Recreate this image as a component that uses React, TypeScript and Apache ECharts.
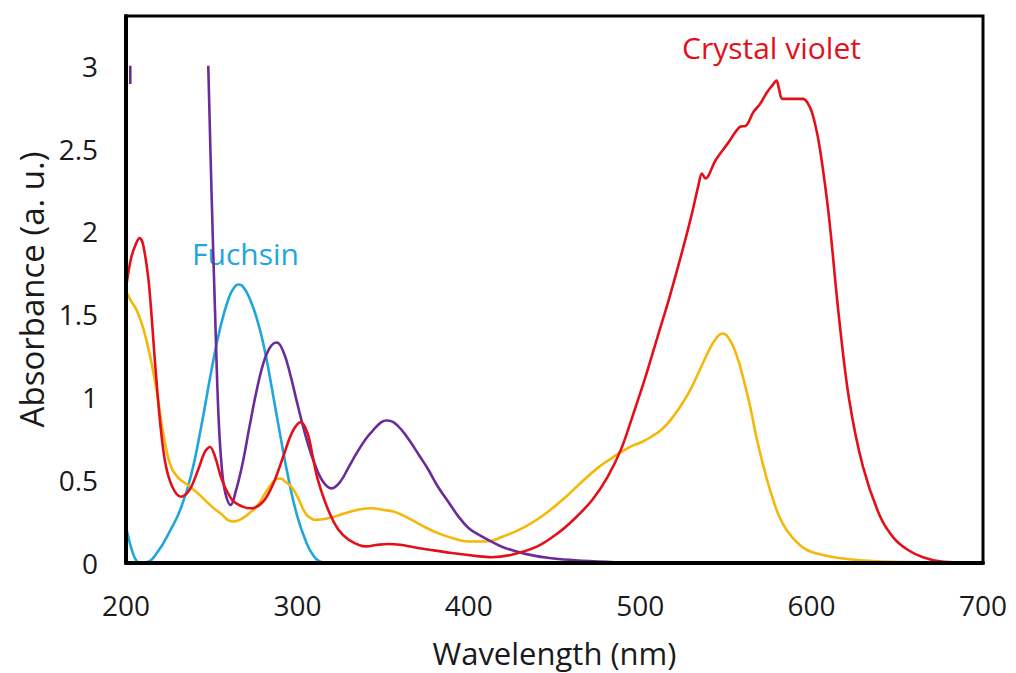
import React, { useEffect, useRef } from "react";
import * as echarts from "echarts";

const crystalViolet: [number, number][] = [
  [200, 1.66], [203, 1.84], [206, 1.93], [208, 1.96], [210, 1.92], [213, 1.72], [215, 1.48], [217, 1.2],
  [220, 0.84], [223, 0.6], [227, 0.46], [232, 0.4], [237, 0.44], [242, 0.56], [246, 0.67], [249, 0.7],
  [252, 0.64], [256, 0.5], [262, 0.38], [268, 0.34], [273, 0.33], [280, 0.37], [286, 0.48], [292, 0.65],
  [297, 0.79], [302, 0.85], [306, 0.78], [309, 0.64], [312, 0.5], [318, 0.32], [324, 0.2], [330, 0.14],
  [340, 0.1], [347, 0.11], [353, 0.115], [360, 0.11], [368, 0.095], [377, 0.08], [390, 0.06], [406, 0.04],
  [413, 0.035], [425, 0.05], [440, 0.1], [452, 0.18], [462, 0.27], [472, 0.38], [481, 0.52], [489, 0.69],
  [496, 0.9], [503, 1.12], [510, 1.36], [517, 1.6], [524, 1.86], [530, 2.1], [534, 2.28], [536, 2.35],
  [538, 2.32], [544, 2.43], [551, 2.53], [558, 2.63], [562, 2.64], [566, 2.72], [570, 2.77], [574, 2.84],
  [577, 2.88], [579.5, 2.91], [581, 2.86], [583, 2.8], [589, 2.8], [595, 2.8], [599, 2.75], [602, 2.65],
  [605, 2.49], [610, 2.1], [616, 1.48], [622, 0.98], [630, 0.58], [640, 0.28], [648, 0.15], [656, 0.08],
  [665, 0.035], [675, 0.01], [690, 0.002], [700, 0],
];

const purpleDye: [number, number | null][] = [
  [202.5, 3.0], [202.5, 2.89], [225, null],
  [248, 3.0], [250, 2.2], [252, 1.5], [254, 0.88], [256, 0.56], [258, 0.42], [261, 0.35], [264, 0.43],
  [268, 0.6], [272, 0.82], [276, 1.03], [280, 1.2], [284, 1.3], [288, 1.33], [292, 1.27], [296, 1.13],
  [300, 0.96], [305, 0.76], [310, 0.6], [315, 0.49], [320, 0.45], [325, 0.49], [330, 0.58], [335, 0.67],
  [340, 0.75], [345, 0.81], [349, 0.85], [352, 0.86], [356, 0.85], [361, 0.8], [366, 0.73], [371, 0.65],
  [376, 0.57], [382, 0.46], [388, 0.37], [394, 0.28], [400, 0.21], [406, 0.17], [413, 0.13], [420, 0.095],
  [433, 0.055], [447, 0.03], [462, 0.017], [480, 0.007], [500, 0], [700, 0],
];

const fuchsin: [number, number][] = [
  [200, 0.22], [202, 0.13], [204, 0.06], [206, 0.015], [208, 0], [212, 0.005], [218, 0.06], [226, 0.2],
  [232, 0.33], [238, 0.53], [244, 0.83], [250, 1.17], [255, 1.42], [260, 1.6], [263, 1.66], [265.5, 1.68],
  [268, 1.67], [272, 1.6], [277, 1.45], [281, 1.28], [285, 1.06], [290, 0.77], [295, 0.5], [300, 0.28],
  [305, 0.13], [309, 0.05], [313, 0.01], [318, 0], [700, 0],
];

const mixture: [number, number][] = [
  [200, 1.64], [203, 1.58], [206, 1.53], [209, 1.45], [212, 1.34], [215, 1.2], [218, 1.03], [220.5, 0.86],
  [223, 0.71], [226, 0.59], [230, 0.52], [236, 0.47], [242, 0.42], [248, 0.36], [255, 0.3], [262.6, 0.25],
  [268, 0.27], [273, 0.31], [277, 0.35], [283, 0.45], [287, 0.5], [290, 0.51], [293, 0.49], [296.5, 0.46],
  [300, 0.4], [304.7, 0.3], [308, 0.27], [311, 0.26], [318, 0.27], [328, 0.3], [335, 0.32], [343, 0.33],
  [350, 0.32], [356, 0.31], [363, 0.28], [372, 0.23], [382, 0.18], [394, 0.14], [400, 0.13], [410, 0.13],
  [420, 0.16], [433, 0.22], [445, 0.3], [456.7, 0.4], [466, 0.49], [476, 0.58], [483, 0.63], [489, 0.67],
  [495, 0.705], [501, 0.73], [507, 0.765], [513, 0.81], [519, 0.88], [525, 0.97], [530, 1.06], [535, 1.17],
  [540, 1.28], [544, 1.35], [548, 1.385], [552, 1.35], [556, 1.26], [560, 1.12], [564, 0.95], [568, 0.75],
  [572, 0.58], [577, 0.4], [583, 0.24], [590, 0.14], [597, 0.08], [606, 0.05], [616, 0.03], [630, 0.015],
  [655, 0.005], [700, 0],
];

const xTicks = { min: 200, max: 700, interval: 100 };
const yTicks = { min: 0, max: 3.3, interval: 0.5 };

const RED = "#e3101a";
const PURPLE = "#6a2c9a";
const BLUE = "#1fa6dc";
const YELLOW = "#f5b70a";
const FONT = "Open Sans";

export default function App() {
  const ref = useRef<HTMLDivElement>(null);
  useEffect(() => {
    if (!ref.current) return;
    const chart = echarts.init(ref.current, null, { renderer: "svg" });
    const line = (name: string, data: any[], color: string, smooth: number) => ({
      name,
      type: "line",
      data,
      showSymbol: false,
      symbol: "none",
      smooth,
      connectNulls: false,
      lineStyle: { color, width: 2.6 },
      itemStyle: { color },
      z: 2,
    });
    chart.setOption({
      animation: false,
      backgroundColor: "#fff",
      grid: {
        left: 126,
        right: 33,
        top: 16,
        bottom: 109,
        show: true,
        borderColor: "#000",
        borderWidth: 3,
        backgroundColor: "transparent",
      },
      xAxis: {
        type: "value",
        ...xTicks,
        z: 5,
        name: "Wavelength (nm)",
        nameLocation: "middle",
        nameGap: 74,
        nameTextStyle: { fontFamily: FONT, fontSize: 31, color: "#1a1a1a" },
        axisLine: { show: true, lineStyle: { color: "#000", width: 4 } },
        axisTick: { show: false },
        splitLine: { show: false },
        axisLabel: { fontFamily: FONT, fontSize: 28, color: "#1a1a1a", margin: 28 },
      },
      yAxis: {
        type: "value",
        ...yTicks,
        z: 5,
        name: "Absorbance (a. u.)",
        nameLocation: "middle",
        nameGap: 78,
        nameTextStyle: { fontFamily: FONT, fontSize: 33, color: "#1a1a1a" },
        axisLine: { show: true, lineStyle: { color: "#000", width: 4 } },
        axisTick: { show: false },
        splitLine: { show: false },
        axisLabel: { fontFamily: FONT, fontSize: 28, color: "#1a1a1a", margin: 28, showMaxLabel: false },
      },
      graphic: [
        {
          type: "text",
          x: 192,
          y: 253,
          style: { text: "Fuchsin", fill: BLUE, font: `30px "${FONT}"`, textVerticalAlign: "middle" },
        },
        {
          type: "text",
          x: 682,
          y: 47,
          style: { text: "Crystal violet", fill: RED, font: `30px "${FONT}"`, textVerticalAlign: "middle" },
        },
      ],
      series: [
        line("Fuchsin", fuchsin, BLUE, 0.5),
        line("Mixture", mixture, YELLOW, 0.5),
        line("Purple dye", purpleDye, PURPLE, 0.4),
        line("Crystal violet", crystalViolet, RED, 0.35),
      ],
    });
    return () => chart.dispose();
  }, []);
  return (
    <div
      ref={ref}
      style={{ position: "absolute", left: 0, top: 0, width: 1016, height: 673, background: "#fff" }}
    />
  );
}
